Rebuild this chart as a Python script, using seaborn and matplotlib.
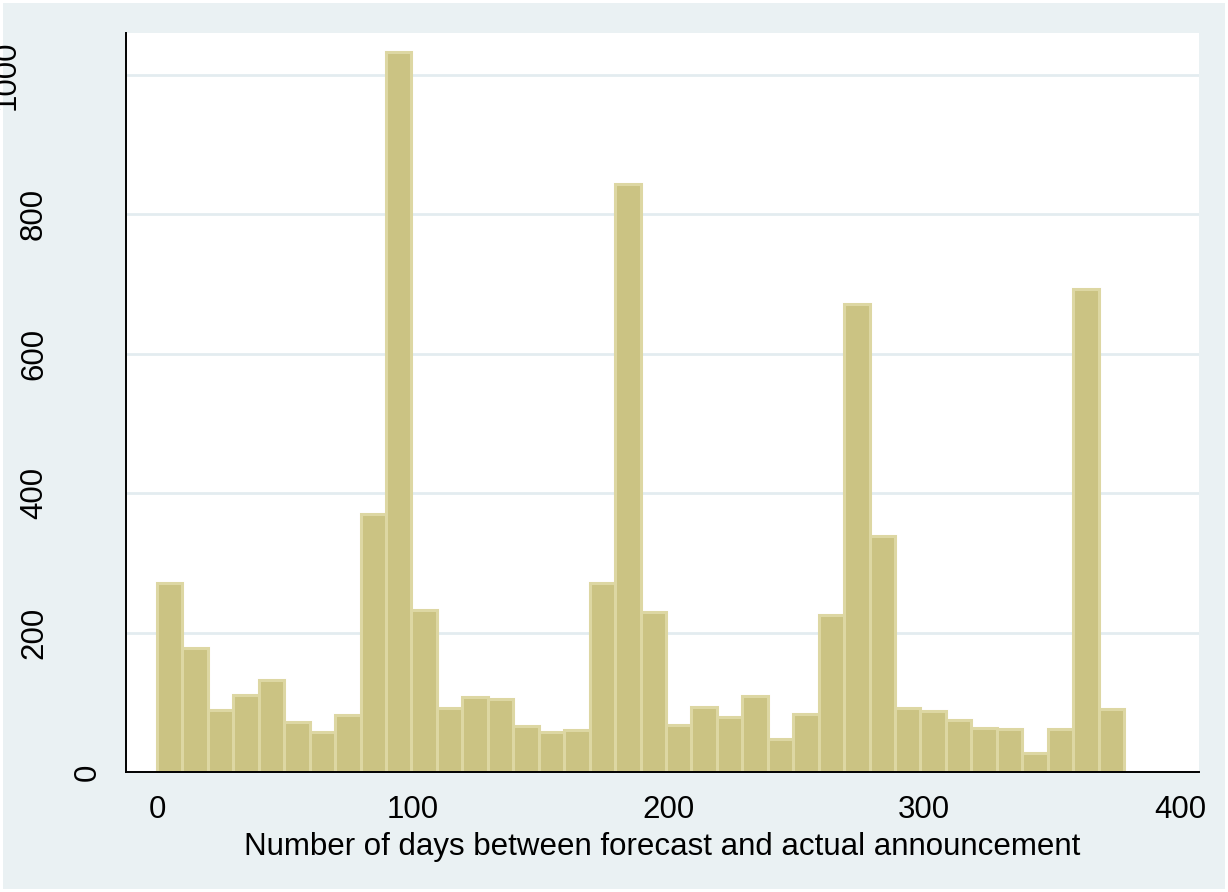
import numpy as np
import pandas as pd
import matplotlib
matplotlib.use("Agg")
import matplotlib.pyplot as plt
import matplotlib.transforms as mtransforms
import seaborn as sns

# histogram counts (bins start at 0, width ~9.95 days)
bin_start = 0.0
bin_width = 9.95
counts = [271, 178, 89, 110, 132, 72, 57, 82, 370, 1033, 232, 92, 108, 105,
          66, 57, 60, 271, 844, 230, 67, 93, 79, 109, 47, 83, 225, 671, 339,
          92, 88, 75, 63, 62, 27, 62, 693, 90]
x_ticks = [0, 100, 200, 300, 400]
y_ticks = [0, 200, 400, 600, 800, 1000]
x_label = "Number of days between forecast and actual announcement"

bg = "#EAF1F3"
bar_face = "#CBC383"
bar_edge = "#DDD7A3"
fs = 22.5

sns.set_style("white")
plt.rcParams['font.family'] = ['Liberation Sans', 'DejaVu Sans']

n_bins = len(counts)
bin_end = bin_start + bin_width * n_bins
df = pd.DataFrame({"days": bin_start + bin_width * (np.arange(n_bins) + 0.5),
                   "n": counts})

fig = plt.figure(figsize=(12.28, 8.92), dpi=100)
fig.patch.set_facecolor(bg)
fig.patch.set_edgecolor("white")
fig.patch.set_linewidth(4)
ax = fig.add_axes([126 / 1228, 1 - 772 / 892, 1073 / 1228, 739 / 892])
ax.set_facecolor("white")

sns.histplot(data=df, x="days", weights="n", bins=n_bins,
             binrange=(bin_start, bin_end), ax=ax,
             color=bar_face, edgecolor=bar_edge, linewidth=2.2, alpha=1)

ax.set_xlim(-12.1, 407.4)
ax.set_ylim(0, 1060)

for v in y_ticks[1:]:
    ax.axhline(v, color="#E3ECF0", lw=2, zorder=0)

for s in ["top", "right"]:
    ax.spines[s].set_visible(False)
for s in ["left", "bottom"]:
    ax.spines[s].set_color("black")
    ax.spines[s].set_linewidth(1.4)

ax.set_xticks(x_ticks)
ax.set_xticklabels([str(t) for t in x_ticks], fontsize=fs)
ax.tick_params(axis="x", length=8.6, width=1.2, pad=8, colors="black")
ax.set_yticks(y_ticks)
ax.set_yticklabels([])
ax.tick_params(axis="y", length=8.6, width=1.2, colors="black")

# y labels rotated, placed like the original (shift depends on label length)
for t in y_ticks:
    s = str(t)
    tr = mtransforms.offset_copy(ax.get_yaxis_transform(), fig=fig,
                                 x=4 - 27 * len(s), y=0, units="dots")
    ax.text(0, t, s, transform=tr, rotation=90, ha="right", va="center",
            fontsize=fs, color="black")

ax.set_xlabel(x_label, fontsize=fs, labelpad=5, color="black")
ax.set_ylabel("")

fig.savefig("out.png", dpi=100, facecolor=fig.get_facecolor(),
            edgecolor=fig.get_edgecolor())
